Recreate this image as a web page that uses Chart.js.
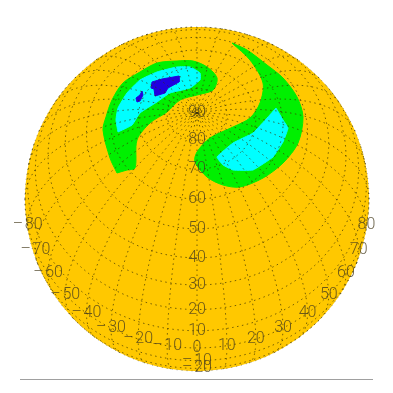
<!DOCTYPE html>
<html lang="en">
<head>
<meta charset="UTF-8">
<title>Orthographic contour map</title>
<script src="https://cdn.jsdelivr.net/npm/chart.js@4"></script>
<style>
    body { margin: 0; background: #fff; }
    canvas { display: block; }
</style>
</head>
<body>
<canvas id="map" width="393" height="393"></canvas>
<script>
// map plane coordinates, origin at the sphere centre
const greenLeft = [[-80,26],[-87,41],[-94,69],[-91,82],[-85,99],[-74,116],[-57,127],[-40,136],[-20,138],[-4,138],[10,132],[20,121],[16,109],[0,104],[-17,99],[-30,87],[-47,76],[-60,59],[-62,31],[-70,29]];
const cyanLeft = [[-79,67],[-81,79],[-79,91],[-70,106],[-57,119],[-40,127],[-20,132],[-7,132],[3,126],[3,119],[-7,111],[-27,106],[-40,97],[-57,86],[-65,74]];
const blueBig = [[-45,117],[-35,120],[-18,123],[-18,117],[-29,111],[-32,106],[-42,103],[-43,110],[-46,111]];
const blueSmall = [[-55,108],[-54,104],[-57,98],[-60,97],[-61,101],[-57,104]];
const greenRight = [[35,156],[50,149],[70,134],[86,121],[100,102],[106,82],[101,56],[86,36],[66,21],[43,12],[26,14],[10,22],[-2,37],[0,47],[13,61],[36,72],[53,81],[63,96],[66,116],[53,139]];
const cyanRight = [[79,91],[86,79],[91,71],[86,57],[76,42],[56,29],[36,29],[26,34],[20,42],[36,56],[56,66],[71,82]];

const gridLats = [-80,-70,-60,-50,-40,-30,-20,-10,0,10,20,30,40,50,60,70,80];
const gridLons = [-180,-170,-160,-150,-140,-130,-120,-110,-100,-90,-80,-70,-60,-50,-40,-30,-20,-10,0,10,20,30,40,50,60,70,80,90,100,110,120,130,140,150,160,170];
const latLabels = [-20,-10,0,10,20,30,40,50,60,70,80,90];
const lonLabels = [-80,-70,-60,-50,-40,-30,-20,-10,10,20,30,40,50,60,70,80];

const radius = 172;
const centerLat = 60;
const rad = Math.PI / 180;

function project(lat, lon) {
    const a = lat * rad, b = lon * rad, c = centerLat * rad;
    return {
        x: radius * Math.cos(a) * Math.sin(b),
        y: radius * (Math.cos(c) * Math.sin(a) - Math.sin(c) * Math.cos(a) * Math.cos(b)),
        front: Math.sin(c) * Math.sin(a) + Math.cos(c) * Math.cos(a) * Math.cos(b) > 0
    };
}

function gridPoints() {
    const pts = [];
    const add = (lat, lon) => {
        const p = project(lat, lon);
        pts.push(p.front ? { x: p.x, y: p.y } : { x: NaN, y: NaN });
    };
    gridLats.forEach(lat => {
        for (let lon = -180; lon <= 180; lon += 2) add(lat, lon);
        pts.push({ x: NaN, y: NaN });
    });
    gridLons.forEach(lon => {
        for (let lat = -90; lat <= 90; lat += 2) add(lat, lon);
        pts.push({ x: NaN, y: NaN });
    });
    return pts;
}

function limbPoints() {
    const pts = [];
    for (let t = 0; t <= 360; t += 2) pts.push({ x: radius * Math.cos(t * rad), y: radius * Math.sin(t * rad) });
    return pts;
}

function region(points, color, order, tension) {
    const data = points.concat([points[0]]).map(p => ({ x: p[0], y: p[1] }));
    return { data, showLine: true, tension, fill: 'shape', backgroundColor: color, borderColor: color, borderWidth: 1, pointRadius: 0, order };
}

const labelPlugin = {
    id: 'mapLabels',
    afterDatasetsDraw(chart) {
        const { ctx, scales } = chart;
        ctx.save();
        ctx.font = '300 16px Roboto';
        ctx.fillStyle = 'rgba(70,60,30,0.8)';
        ctx.textAlign = 'center';
        ctx.textBaseline = 'middle';
        const put = (text, p) => ctx.fillText(text, scales.x.getPixelForValue(p.x), scales.y.getPixelForValue(p.y));
        const fmt = v => String(v).replace('-', '\u2013\u200a');
        latLabels.forEach(lat => put(fmt(lat), project(lat, 0)));
        lonLabels.forEach(lon => put(fmt(lon), project(0, lon)));
        ctx.restore();
    }
};

new Chart(document.getElementById('map'), {
    type: 'scatter',
    data: {
        datasets: [
            { data: limbPoints(), showLine: true, fill: 'shape', backgroundColor: '#ffc800', borderColor: 'rgba(60,60,60,0.5)', borderWidth: 1, borderDash: [1, 4], pointRadius: 0, order: 9 },
            region(greenLeft, '#00f000', 8, 0.3),
            region(greenRight, '#00f000', 7, 0.3),
            region(cyanLeft, '#00ffff', 6, 0.15),
            region(cyanRight, '#00ffff', 5, 0.1),
            region(blueBig, '#2000e0', 4, 0),
            region(blueSmall, '#2000e0', 3, 0),
            { data: gridPoints(), showLine: true, fill: false, borderColor: 'rgba(60,50,0,0.7)', borderWidth: 1, borderDash: [1.5, 3.5], pointRadius: 0, order: 2 },
            { data: [{ x: -177, y: -180.5 }, { x: 176, y: -180.5 }], showLine: true, fill: false, borderColor: '#a0a0a0', borderWidth: 1, pointRadius: 0, order: 1 }
        ]
    },
    options: {
        responsive: false,
        animation: false,
        layout: { padding: 0 },
        plugins: { legend: { display: false }, tooltip: { enabled: false } },
        scales: {
            x: { type: 'linear', display: false, min: -197, max: 196 },
            y: { type: 'linear', display: false, min: -194, max: 199 }
        }
    },
    plugins: [labelPlugin]
});
</script>
</body>
</html>
